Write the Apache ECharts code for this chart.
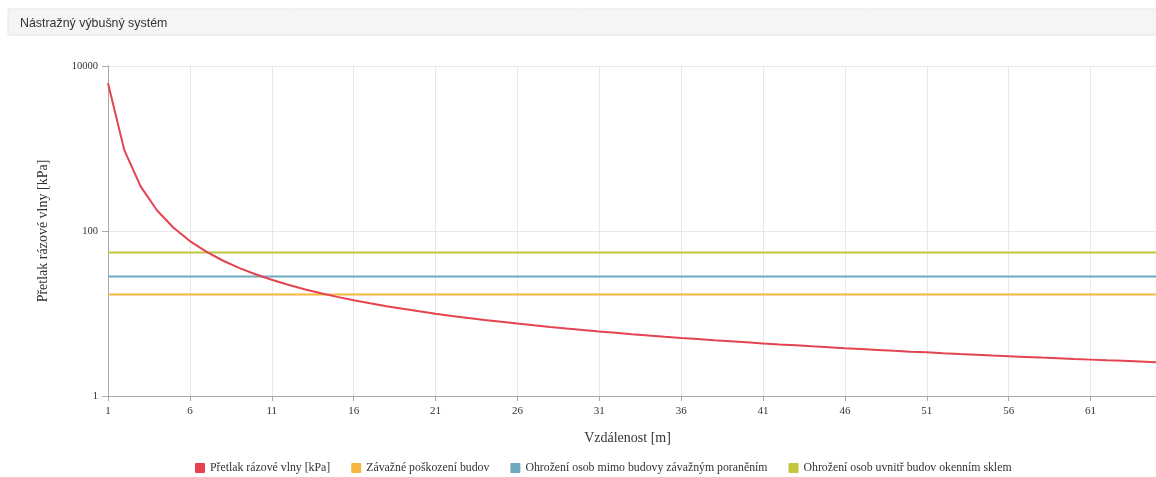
<!DOCTYPE html>
<html>
<head>
<meta charset="utf-8">
<script src="https://cdn.jsdelivr.net/npm/echarts@6/dist/echarts.min.js"></script>
<style>
html,body{margin:0;padding:0;background:#fff;}
#chart{width:1156px;height:477px;}
</style>
</head>
<body>
<div id="chart"></div>
<script>
// Distances [m]
const distances = [];
for (let i = 1; i <= 65; i++) distances.push(String(i));

// Blast overpressure [kPa]
const overpressure = [
  6160, 949, 345, 177, 109.4, 75.5, 56.1, 43.9, 35.7, 29.9,
  25.6, 22.3, 19.7, 17.6, 15.9, 14.5, 13.3, 12.26, 11.39, 10.62,
  9.95, 9.35, 8.83, 8.35, 7.93, 7.54, 7.19, 6.87, 6.58, 6.31,
  6.06, 5.83, 5.61, 5.42, 5.23, 5.06, 4.90, 4.74, 4.60, 4.47,
  4.34, 4.22, 4.11, 4.00, 3.90, 3.80, 3.71, 3.62, 3.53, 3.45,
  3.38, 3.30, 3.23, 3.17, 3.10, 3.04, 2.98, 2.92, 2.87, 2.81,
  2.76, 2.71, 2.67, 2.62, 2.57
];

// Threshold levels [kPa]
const thresholdNames = [
  'Závažné poškození budov',
  'Ohrožení osob mimo budovy závažným poraněním',
  'Ohrožení osob uvnitř budov okenním sklem'
];
const thresholdValues = [17, 28, 55];

const seriesNames = ['Přetlak rázové vlny [kPa]'].concat(thresholdNames);
const colors = ['#e4434f', '#f6b640', '#6ea9c0', '#c3c63c'];

const titleText = 'Nástražný výbušný systém';
const xName = 'Vzdálenost [m]';
const yName = 'Přetlak rázové vlny [kPa]';

const serif = '"Liberation Serif", "DejaVu Serif", serif';

const chart = echarts.init(document.getElementById('chart'), null, {renderer: 'canvas'});

const series = [{
  name: seriesNames[0],
  type: 'line',
  data: overpressure,
  symbol: 'none',
  lineStyle: {width: 2, color: colors[0]},
  itemStyle: {color: colors[0]},
  z: 5
}];
thresholdValues.forEach((v, i) => {
  series.push({
    name: thresholdNames[i],
    type: 'line',
    data: distances.map(() => v),
    symbol: 'none',
    lineStyle: {width: 2, color: colors[i + 1]},
    itemStyle: {color: colors[i + 1]},
    z: 3
  });
});

chart.setOption({
  animation: false,
  color: colors,
  title: {
    text: titleText,
    left: 15,
    top: 13,
    textStyle: {fontFamily: '"Liberation Sans", Arial, sans-serif', fontSize: 12.4, fontWeight: 'normal', color: '#333'}
  },
  graphic: [{
    type: 'rect',
    shape: {x: 8, y: 9, width: 1160, height: 26},
    style: {fill: '#f5f5f5', stroke: '#e6e6e6', lineWidth: 1},
    z: -10
  }],
  legend: {
    left: 190,
    top: 457,
    itemWidth: 10,
    itemHeight: 10,
    itemGap: 21,
    icon: 'path://M1,0 L9,0 Q10,0 10,1 L10,9 Q10,10 9,10 L1,10 Q0,10 0,9 L0,1 Q0,0 1,0 Z',
    textStyle: {fontFamily: serif, fontSize: 11.8, color: '#333'},
    data: seriesNames
  },
  grid: {left: 108, top: 66, width: 1056, height: 330, containLabel: false},
  xAxis: {
    type: 'category',
    data: distances,
    boundaryGap: false,
    name: xName,
    nameLocation: 'middle',
    nameGap: 35,
    nameTextStyle: {fontFamily: serif, fontSize: 14, color: '#333', padding: [0, 9, 0, 0]},
    axisLine: {lineStyle: {color: '#aaa'}},
    axisTick: {interval: 4, length: 5, lineStyle: {color: '#aaa'}},
    axisLabel: {interval: 4, fontFamily: serif, fontSize: 11, color: '#333', margin: 10},
    splitLine: {show: true, interval: 4, lineStyle: {color: '#e8e8e8'}}
  },
  yAxis: {
    type: 'log',
    logBase: 10,
    min: 1,
    max: 10000,
    interval: 2,
    name: yName,
    nameLocation: 'middle',
    nameGap: 58,
    nameTextStyle: {fontFamily: serif, fontSize: 14, color: '#333'},
    axisLine: {show: true, lineStyle: {color: '#aaa'}},
    axisTick: {show: true, length: 6, lineStyle: {color: '#aaa'}},
    axisLabel: {fontFamily: serif, fontSize: 10.5, color: '#333', margin: 10, formatter: function (v) { return String(Math.round(v)); }},
    splitLine: {show: true, lineStyle: {color: '#e8e8e8'}},
    minorTick: {show: false},
    minorSplitLine: {show: false}
  },
  series: series
});
</script>
</body>
</html>
